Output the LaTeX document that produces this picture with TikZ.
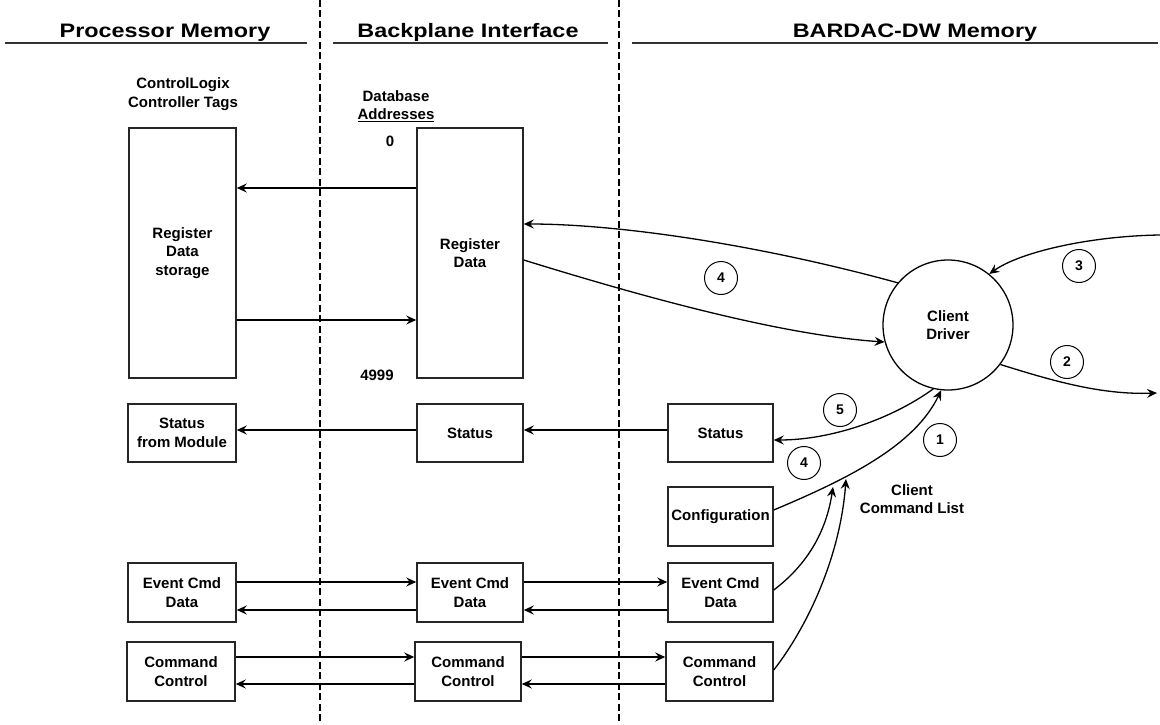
\documentclass[tikz,border=0pt]{standalone}
\usepackage{fontspec}
\setmainfont{Liberation Sans}
\newfontfamily\hdrfont{Liberation Sans}[FakeStretch=1.2]
\usetikzlibrary{arrows.meta}
\begin{document}
\begin{tikzpicture}[x=1pt,y=-1pt,
  box/.style={draw=black!85, line width=1.5pt, minimum width=106pt, minimum height=59pt, inner sep=0pt, align=center, font=\fontsize{15}{18.5}\selectfont\bfseries},
  lbl/.style={inner sep=0pt, align=center, font=\fontsize{15}{18.5}\selectfont\bfseries},
  num/.style={draw, circle, line width=1pt, minimum size=33pt, inner sep=0pt, font=\fontsize{14}{14}\selectfont\bfseries},
  hdr/.style={inner sep=0pt, anchor=base, font=\hdrfont\fontsize{19.5}{19.5}\selectfont\bfseries},
  hline/.style={line width=2pt, draw=black!80},
  sep/.style={line width=1.6pt, dash pattern=on 7pt off 3.5pt},
  arr/.style={line width=1.3pt, -{Stealth[length=10pt,width=9pt,inset=3.5pt]}},
]
\useasboundingbox (0,0) rectangle (1160,725);

% separators
\draw[sep] (320,0) -- (320,725);
\draw[sep] (619,0) -- (619,725);

% headers
\node[hdr] (h1) at (165,38) {Processor Memory};
\node[hdr] (h2) at (468,38) {Backplane Interface};
\node[hdr] (h3) at (915,38) {BARDAC-DW Memory};
\draw[hline] (5,43) -- (307,43);
\draw[hline] (333,43) -- (608,43);
\draw[hline] (632,43) -- (1158,43);

% labels
\node[lbl] (tags) at (183,94) {ControlLogix\\Controller Tags};
\node[lbl] (dba) at (396,106) {Database\\\underline{Addresses}};
\node[lbl] (zero) at (390,141) {0};
\node[lbl] (last) at (377,375) {4999};
\node[lbl] (ccl) at (912,499) {Client\\Command List};

% boxes
\node[box, minimum width=107pt, minimum height=250pt] (regL) at (182.5,253) {Register\\Data\\storage};
\node[box, minimum height=250pt] (regR) at (470,253) {Register\\Data};

\node[box, minimum width=108pt, minimum height=58pt] (stL) at (182,433) {Status\\from Module};
\node[box, minimum height=58pt] (stM) at (470,433) {Status};
\node[box, minimum width=105pt, minimum height=58pt] (stR) at (720.5,433) {Status};
\node[box, minimum width=105pt] (cfg) at (720.5,516.5) {Configuration};

\node[box, minimum width=108pt] (evL) at (182,592.5) {Event Cmd\\Data};
\node[box] (evM) at (470,592.5) {Event Cmd\\Data};
\node[box, minimum width=105pt] (evR) at (720.5,592.5) {Event Cmd\\Data};

\node[box, minimum width=108pt] (ccL) at (181,671.5) {Command\\Control};
\node[box] (ccM) at (468,671.5) {Command\\Control};
\node[box, minimum width=107pt] (ccR) at (719.5,671.5) {Command\\Control};

% client driver
\node[draw, circle, line width=1.3pt, minimum size=130pt, inner sep=0pt, align=center, font=\fontsize{15}{18.5}\selectfont\bfseries] (drv) at (948,325) {Client\\Driver};

% straight arrows
\draw[arr] ([yshift=65pt]regR.west) -- ([yshift=65pt]regL.east);
\draw[arr] ([yshift=-67pt]regL.east) -- ([yshift=-67pt]regR.west);

\draw[arr] ([yshift=3pt]stR.west) -- ([yshift=3pt]stM.east);
\draw[arr] ([yshift=3pt]stM.west) -- ([yshift=3pt]stL.east);

\draw[arr] ([yshift=10.5pt]evL.east) -- ([yshift=10.5pt]evM.west);
\draw[arr] ([yshift=10.5pt]evM.east) -- ([yshift=10.5pt]evR.west);
\draw[arr] ([yshift=-17.5pt]evR.west) -- ([yshift=-17.5pt]evM.east);
\draw[arr] ([yshift=-17.5pt]evM.west) -- ([yshift=-17.5pt]evL.east);

\draw[arr] ([yshift=14.5pt]ccL.east) -- ([yshift=14.5pt]ccM.west);
\draw[arr] ([yshift=14.5pt]ccM.east) -- ([yshift=14.5pt]ccR.west);
\draw[arr] ([yshift=-12.5pt]ccR.west) -- ([yshift=-12.5pt]ccM.east);
\draw[arr] ([yshift=-12.5pt]ccM.west) -- ([yshift=-12.5pt]ccL.east);

% curved arrows
\coordinate (in3) at (1160,235);
\coordinate (out2) at (1157,393);
\coordinate (c1) at (833,487);
\coordinate (c2) at (846,479);

\draw[arr] (drv.140) .. controls (760,245) and (620,224) .. ([yshift=29pt]regR.east);
\draw[arr] ([yshift=-7pt]regR.east) .. controls (640,296) and (780,335) .. (drv.195);
\draw[arr] (in3) .. controls (1090,236) and (1020,252) .. (drv.51);
\draw[arr] (drv.-37) .. controls (1050,380) and (1100,395) .. (out2);
\draw[arr] (drv.-103) .. controls (890,420) and (830,440) .. ([yshift=-7pt]stR.east);
\draw[arr] ([yshift=6.5pt]cfg.east) .. controls (850,478) and (915,445) .. (drv.-96);
\draw[arr] ([yshift=2.5pt]evR.east) .. controls (800,570) and (825,540) .. (c1);
\draw[arr] ([yshift=1.5pt]ccR.east) .. controls (805,630) and (840,560) .. (c2);

% step numbers
\node[num] (n4a) at (721,278) {4};
\node[num] (n3) at (1079,266) {3};
\node[num] (n2) at (1067,362) {2};
\node[num] (n5) at (840,410) {5};
\node[num] (n4b) at (804,463) {4};
\node[num] (n1) at (940,440) {1};
\end{tikzpicture}
\end{document}
